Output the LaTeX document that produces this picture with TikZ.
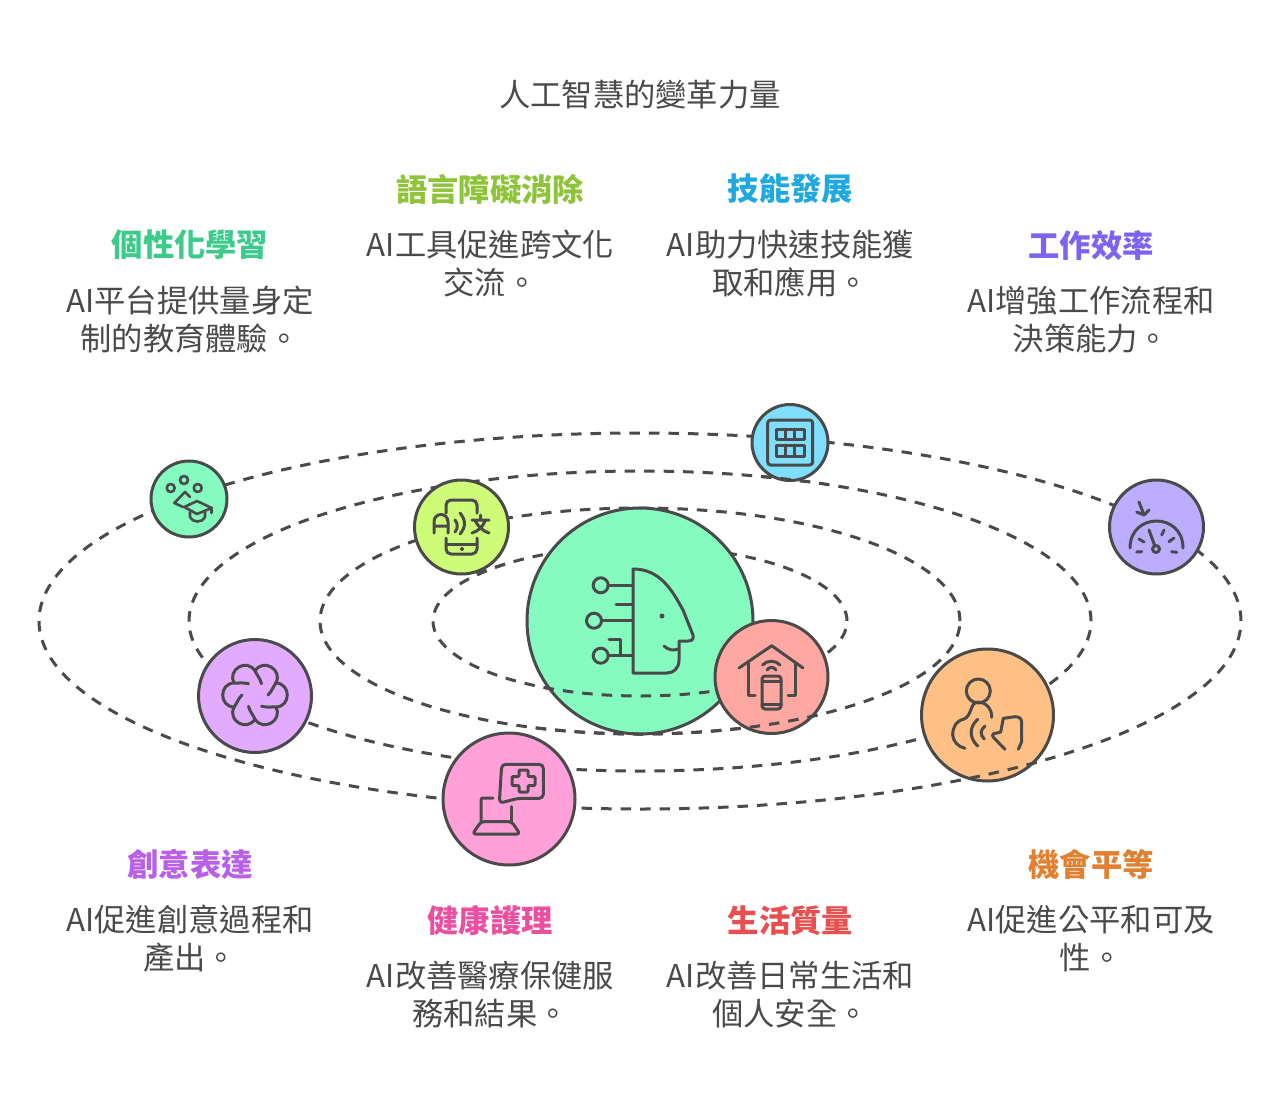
\documentclass[tikz,border=0pt]{standalone}
\usepackage{fontspec}
\setmainfont{Noto Sans CJK TC}
\definecolor{ink}{HTML}{4A4A4A}
\definecolor{orbitc}{HTML}{4A4A4A}
\definecolor{cMain}{HTML}{85FBC0}
\definecolor{cRed}{HTML}{FFA8A1}
\definecolor{cYellow}{HTML}{CFFC78}
\definecolor{cBlue}{HTML}{80DFFF}
\definecolor{cPurple}{HTML}{BDADFF}
\definecolor{cLilac}{HTML}{E2ABFF}
\definecolor{cPink}{HTML}{FFA0D8}
\definecolor{cOrange}{HTML}{FFC085}
\definecolor{hGreen}{HTML}{3CCB8B}
\definecolor{hLime}{HTML}{8FC43A}
\definecolor{hBlue}{HTML}{20A8E0}
\definecolor{hPurple}{HTML}{7F62F0}
\definecolor{hLilac}{HTML}{B95FE8}
\definecolor{hPink}{HTML}{EB4FA0}
\definecolor{hRed}{HTML}{EA4F4F}
\definecolor{hOrange}{HTML}{E08030}
\tikzset{
  orbit/.style={draw=orbitc,line width=3pt,dash pattern=on 10.5pt off 9pt},
  planet/.style={circle,draw=ink,line width=3pt,inner sep=0pt,minimum size=#1},
  icon/.style={draw=ink,line width=3pt,line cap=round,line join=round},
  title/.style={text=ink,inner sep=0pt,anchor=north,font=\fontsize{31.3}{38}\selectfont},
  head/.style={inner sep=0pt,anchor=north,font=\fontsize{31.3}{38}\selectfont\bfseries},
  body/.style={text=ink,inner sep=0pt,anchor=north,align=center,font=\fontsize{31.3}{38}\selectfont},
}
\newcommand\orbitA{\draw[orbit] (640,621) ellipse [x radius=207pt,y radius=75pt];}
\newcommand\orbitB{\draw[orbit] (640,621) ellipse [x radius=320pt,y radius=113pt];}
\newcommand\orbitC{\draw[orbit] (640,621) ellipse [x radius=451pt,y radius=150pt];}
\newcommand\orbitD{\draw[orbit] (640,621) ellipse [x radius=601pt,y radius=188pt];}
\begin{document}
\begin{tikzpicture}[x=1pt,y=-1pt]
\useasboundingbox (0,0) rectangle (1280,1111);
\orbitA \orbitB \orbitC \orbitD
% planets
\node[planet=226pt,fill=cMain] (main) at (640,621) {};
\node[planet=113pt,fill=cRed] (home) at (771.5,677) {};
\node[planet=94pt,fill=cYellow] (lang) at (461.5,527) {};
\node[planet=76pt,fill=cMain] (learn) at (189,499) {};
\node[planet=76pt,fill=cBlue] (skill) at (790,442.5) {};
\node[planet=94pt,fill=cPurple] (work) at (1156.5,527) {};
\node[planet=113pt,fill=cLilac] (create) at (255,696) {};
\node[planet=132pt,fill=cPink] (health) at (509,799) {};
\node[planet=132pt,fill=cOrange] (equal) at (987.5,715) {};
% orbit parts that pass in front
\begin{scope}\clip (535,650) rectangle (715,712); \orbitA\end{scope}
\begin{scope}\clip (478,548) rectangle (512,578); \orbitA\end{scope}
\begin{scope}\clip (530,700) rectangle (815,745); \orbitB\end{scope}
\begin{scope}\clip (752,462) rectangle (828,482); \orbitC\end{scope}
\begin{scope}\clip (960,755) rectangle (1045,800); \orbitD\end{scope}
% main head icon
\draw[icon] (633,569) .. controls (660,569) and (672,590) .. (683,610) -- (693,635)
  .. controls (694,639) and (692,641) .. (688,641) -- (679,641) -- (679,660)
  .. controls (679,668) and (674,673) .. (667,673) -- (633,673) -- cycle;
\draw[icon] (664,646) .. controls (668,650) and (674,651) .. (678,649);
\fill[ink] (662,616) circle (2.5pt);
\draw[icon] (600.7,585.3) circle (7.5pt) (594,620.7) circle (7.5pt) (600.7,655.7) circle (7.5pt);
\draw[icon] (608,585.3) -- (633,585.3) (616,604) -- (633,604) (602,620.7) -- (633,620.7) (608,655.7) -- (633,655.7);
\draw[icon] (609,639) -- (620,639) -- (620,655.7);
% home icon
\draw[icon] (739,668) -- (771.7,645.7) -- (803,668);
\draw[icon] (748,663) -- (748,695) -- (755,695);
\draw[icon] (795,663) -- (795,695) -- (788,695);
\draw[icon,rounded corners=3pt] (762,676) rectangle (781,709);
\draw[icon] (762,681) -- (781,681) (762,704) -- (781,704);
\draw[icon] (767,670) .. controls (769,666.5) and (774,666.5) .. (776,670);
\draw[icon] (762.5,665) .. controls (767,660) and (776,660) .. (780,665);
% language icon
\draw[icon,rounded corners=5pt] (446,513) -- (446,500) -- (477,500) -- (477,513);
\draw[icon,rounded corners=5pt] (446,538) -- (446,554) -- (477,554) -- (477,538);
\draw[icon] (446,544) -- (477,544);
\fill[ink] (462,549) circle (2pt);
\draw[icon] (434,533) -- (434,522) .. controls (434,512) and (448,512) .. (448,522) -- (448,533) (434,526) -- (448,526);
\draw[icon] (455,520) .. controls (458,523) and (458,529) .. (455,532);
\draw[icon] (460,513) .. controls (466,520) and (466,527) .. (460,534);
\draw[icon] (480.5,515) -- (480.5,520) (472,520) -- (489,520) (475,520) .. controls (478,527) and (483,531) .. (489,533) (485.5,520) .. controls (483,527) and (478,531) .. (472,533);
% learning icon
\draw[icon,line width=2.6pt] (170.7,488) circle (4pt) (184,480) circle (4pt) (197.7,488) circle (4pt);
\draw[icon,line width=2.6pt] (190,497) -- (185,492) -- (174.3,503) -- (183,507);
\draw[icon,line width=2.6pt] (197,501) -- (211.7,508) -- (197,514) -- (184.3,507) -- cycle;
\draw[icon,line width=2.6pt] (190,512) -- (190,517) .. controls (192,523) and (203,523) .. (205,517) -- (205,512);
\draw[icon,line width=2.6pt] (211.7,508) -- (211.7,513);
% skill icon
\draw[icon,rounded corners=3pt] (767.7,420) rectangle (812.7,465);
\draw[icon] (776,429) rectangle (804,439) (776,445) rectangle (804,456);
\draw[icon] (785.3,429) -- (785.3,439) (794.7,429) -- (794.7,439) (785.3,445) -- (785.3,456) (794.7,445) -- (794.7,456);
% work icon
\draw[icon] (1139,502) -- (1144,515) (1136.7,512) -- (1144,515) -- (1149,510);
\draw[icon] (1130,548) .. controls (1130,512) and (1183,512) .. (1183,548);
\draw[icon] (1156,549) circle (3.5pt);
\draw[icon] (1149,530) -- (1154.5,545);
\draw[icon] (1136.7,552) -- (1141.7,551.7) (1139,539) -- (1144,542) (1164,530) -- (1161.7,535) (1174,538) -- (1169,541.7) (1171.7,551.7) -- (1176.7,552.3);
% create icon
\foreach \a in {0,60,...,300}{
  \draw[icon,shift={(255,695)},rotate=\a] (-30:24) .. controls (-18:38) and (18:38) .. (30:24)
    .. controls (36:20) and (48:17) .. (60:13);
}
% health icon
\draw[icon,rounded corners=4pt] (499.3,803.3) -- (501.7,764.3) -- (543.3,764.3) -- (543.3,798.3) -- (518,798.3) -- cycle;
\draw[icon,rounded corners=1pt] (519,770) -- (528,770) -- (528,776.5) -- (535,776.5) -- (535,785.5) -- (528,785.5) -- (528,792) -- (519,792) -- (519,785.5) -- (512,785.5) -- (512,776.5) -- (519,776.5) -- cycle;
\draw[icon,rounded corners=2pt] (493,798) -- (481,798) -- (481,821.7);
\draw[icon] (511.7,806.7) -- (511.7,821.7);
\draw[icon,rounded corners=3pt] (481,821.7) -- (511.7,821.7) -- (520,834) -- (472.5,834) -- cycle;
% equal icon
\draw[icon] (978.3,691) circle (12pt);
\draw[icon] (991.7,717.3) .. controls (992,708) and (985,702) .. (978,702) .. controls (970,702) and (972,716) .. (964,719)
  .. controls (956,721) and (952.7,727) .. (952.7,735) .. controls (953,741) and (958,747) .. (965,748.3);
\draw[icon] (977.7,719.3) .. controls (969,727) and (969,738) .. (977.7,746);
\draw[icon] (985,726) .. controls (980,730) and (980,735) .. (984.3,739);
\draw[icon] (1005,749.3) -- (994,738) .. controls (991,735) and (993,733) .. (997,733) -- (1000.7,732) -- (1003.3,718.3) -- (1015,716.7) .. controls (1020,716.7) and (1021.7,719) .. (1021.7,723) -- (1021.7,741.7) -- (1018.3,749.3);
% texts
\node[title] (t0) at (640,79.5) {人工智慧的變革力量};
\node[head,text=hGreen] (h1) at (190,230) {個性化學習};
\node[body] (b1) at (190,285.5) {AI平台提供量身定\\制的教育體驗。};
\node[head,text=hLime] (h2) at (490,174) {語言障礙消除};
\node[body] (b2) at (490.5,229.5) {AI工具促進跨文化\\交流。};
\node[head,text=hBlue] (h3) at (790.5,174) {技能發展};
\node[body] (b3) at (790.5,229.5) {AI助力快速技能獲\\取和應用。};
\node[head,text=hPurple] (h4) at (1091,230) {工作效率};
\node[body] (b4) at (1091,285.5) {AI增強工作流程和\\決策能力。};
\node[head,text=hLilac] (h5) at (190,849) {創意表達};
\node[body] (b5) at (190,904.5) {AI促進創意過程和\\產出。};
\node[head,text=hPink] (h6) at (490,905) {健康護理};
\node[body] (b6) at (490.5,961) {AI改善醫療保健服\\務和結果。};
\node[head,text=hRed] (h7) at (790.5,905) {生活質量};
\node[body] (b7) at (790.5,961) {AI改善日常生活和\\個人安全。};
\node[head,text=hOrange] (h8) at (1091,849) {機會平等};
\node[body] (b8) at (1091,905) {AI促進公平和可及\\性。};
\end{tikzpicture}
\end{document}
